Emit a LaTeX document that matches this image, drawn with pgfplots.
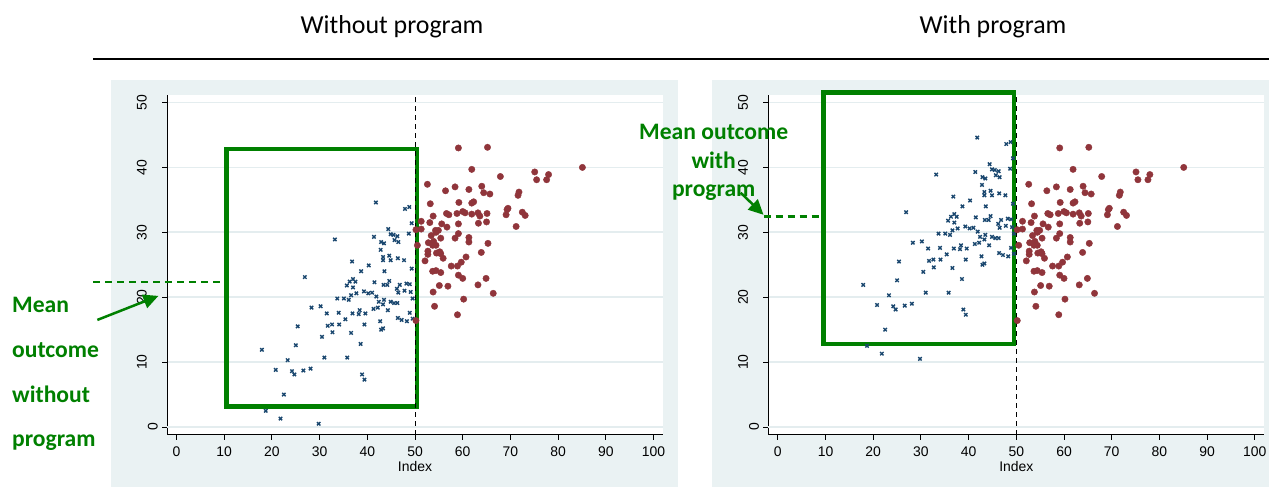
\documentclass[border=0pt]{standalone}
\usepackage{fontspec}
\usepackage{pgfplots}
\usepackage{pgfplotstable}
\pgfplotsset{compat=1.18}
\usetikzlibrary{arrows.meta}
\setmainfont{Carlito}
\newfontfamily\arialf{Liberation Sans}

\definecolor{navyc}{RGB}{26,71,111}
\definecolor{maroonc}{RGB}{144,53,59}
\definecolor{panelc}{RGB}{234,242,243}
\definecolor{gridc}{RGB}{228,237,239}
\definecolor{greenc}{RGB}{0,128,0}

\newcommand\titfont{\fontsize{26}{30}\selectfont}
\newcommand\annfont{\fontsize{23.7}{28}\selectfont\bfseries}
\newcommand\ticfont{\arialf\fontsize{14}{16}\selectfont}

% outcome without program, index below 50
\pgfplotstableread{
x y
41.8 34.6
47.9 33.6
48.8 33.9
49.3 31.4
48.7 29.8
44.4 30.5
44.9 29.7
45.5 29.6
46.3 29.4
45.7 28.8
46.5 28.5
41.4 29.3
42.9 28.5
43.5 28.3
33.2 28.9
42.8 27.3
43.3 26.2
44.6 26.4
43.3 25.7
44.9 25.7
46.4 26.0
47.7 25.7
36.8 25.5
40.3 24.9
38.7 24.0
43.6 24.0
49.3 24.4
26.9 23.1
37.0 22.8
36.3 22.4
37.5 22.4
35.7 21.8
37.0 21.5
41.5 22.3
43.4 21.9
44.2 21.9
44.6 22.5
46.8 21.9
48.2 22.1
48.9 22.0
46.2 21.3
47.8 21.0
46.5 20.7
49.1 20.8
37.7 20.6
39.3 20.9
40.2 20.6
41.0 20.7
36.6 20.3
33.7 19.8
35.1 19.8
36.1 19.6
41.9 20.1
42.4 19.3
43.5 19.6
44.9 19.3
45.6 19.1
46.3 19.1
49.5 19.8
28.3 18.4
30.2 18.6
31.5 17.5
34.0 17.6
36.9 17.5
38.2 17.4
38.4 18.0
39.6 17.5
41.3 18.2
42.2 18.4
43.3 18.9
44.3 18.0
48.9 17.6
35.4 16.6
46.4 16.8
47.2 16.5
48.3 16.3
49.5 16.7
42.7 16.3
25.4 15.5
31.7 15.6
32.6 15.8
34.1 15.8
39.4 15.8
42.9 15.0
43.3 15.2
30.5 13.9
32.7 14.6
36.6 14.5
25.0 12.6
17.9 11.9
38.6 12.8
31.0 10.7
35.8 10.7
23.3 10.3
20.8 8.8
24.2 8.6
24.7 8.1
26.6 8.7
28.1 9.0
38.9 8.1
39.4 7.3
22.5 5.0
18.7 2.5
21.8 1.3
29.8 0.5
}\bluedata

% index 50 and above
\pgfplotstableread{
x y
59.1 43.0
65.2 43.1
61.9 39.7
85.1 40.0
75.1 39.3
78.0 38.9
75.5 38.1
77.6 38.1
67.9 38.6
52.6 37.4
56.4 36.4
58.4 37.0
61.3 36.6
64.0 37.1
64.4 36.1
65.7 35.9
71.8 36.2
71.6 35.7
53.2 34.4
59.2 34.6
61.9 34.5
62.3 34.7
69.5 33.7
69.3 33.5
69.1 32.7
72.5 33.1
73.1 32.6
53.8 32.5
56.6 32.9
57.1 32.7
58.8 32.9
60.0 33.2
60.5 33.0
61.9 32.8
63.2 33.0
63.6 32.5
65.1 32.9
51.3 31.7
53.1 31.5
55.6 31.3
56.7 30.8
59.1 31.3
63.3 31.4
65.0 31.6
71.2 30.9
51.3 30.5
54.3 30.3
54.9 30.3
54.4 30.0
53.4 29.5
55.4 29.1
59.1 29.8
58.4 29.1
61.3 29.2
61.3 28.5
65.3 28.3
52.8 28.4
53.9 28.6
53.7 28.0
54.4 28.0
52.7 27.1
52.7 26.6
54.5 26.8
55.2 27.0
55.4 26.7
55.9 26.0
52.1 25.6
60.7 26.2
59.7 25.4
63.9 26.9
57.6 24.8
58.9 24.8
53.7 24.0
54.4 24.1
55.4 23.8
59.1 23.4
60.0 22.9
64.9 22.9
55.1 21.8
56.9 21.7
63.2 21.9
53.8 20.8
66.4 20.6
60.2 19.7
54.1 18.6
58.9 17.3
50.5 28.0
50.2 16.4
50.2 30.4
}\reddata

\pgfplotsset{
  panel/.style={
    scale only axis, width=496bp, height=340bp,
    xmin=-2, xmax=102, ymin=-1.23, ymax=51.16,
    clip=false,
    axis x line*=bottom, axis y line*=left,
    axis line style={black, line width=1bp, -},
    tick align=outside, major tick length=5bp,
    tick style={black, line width=1bp},
    xtick={0,10,...,100}, ytick={10,20,...,50},
    extra y ticks={0},
    extra y tick style={ymajorgrids=true, yticklabel style={yshift=-11bp}},
    ymajorgrids, grid style={gridc, line width=1.8bp},
    axis background/.style={fill=white},
    tick label style={font=\ticfont},
    /pgf/number format/assume math mode=true,
    xticklabel style={anchor=north, inner sep=0pt, yshift=-6.5bp},
    yticklabel style={rotate=90, anchor=south, inner sep=0pt, yshift=15bp},
    xlabel={Index},
    xlabel style={font=\ticfont, at={(axis description cs:0.5,0)}, anchor=north, inner sep=0pt, yshift=-26.7bp},
  },
  bluepts/.style={only marks, mark=x, color=navyc, mark size=2.4bp, mark options={line width=1.4bp}},
  redpts/.style={only marks, mark=*, color=maroonc, mark size=3.2bp, mark options={draw=maroonc, fill=maroonc}},
}

\begin{document}
\begin{tikzpicture}[x=1bp,y=1bp]
\useasboundingbox (0,0) rectangle (1269,487);
\fill[panelc] (111,0) rectangle (678,407);
\fill[panelc] (712,0) rectangle (1269,407);
\draw[line width=1.8bp] (93,428) -- (1269,428);
\node[font=\titfont] at (392,460) {Without program};
\node[font=\titfont] at (993,460) {With program};

\begin{axis}[panel, at={(167bp,52bp)}, anchor=south west]
\addplot[bluepts] table[x=x, y=y] {\bluedata};
\addplot[redpts] table[x=x, y=y] {\reddata};
\draw[greenc, line width=4.5bp, line join=miter] (axis cs:10.48,3.16) rectangle (axis cs:50.46,42.87);
\draw[black, line width=1bp, dash pattern=on 5bp off 4bp] (axis cs:50,-1.23) -- (axis cs:50,51.16);
\draw[greenc, line width=2.5bp, dash pattern=on 7bp off 5bp] (axis cs:-17.5,22.35) -- (axis cs:10.0,22.35);
\draw[greenc, line width=2.5bp, -{Triangle[length=15bp,width=14bp]}] (axis cs:-16.6,16.5) -- (axis cs:-3.8,20.2);
\end{axis}

\begin{axis}[panel, at={(768.3bp,52bp)}, anchor=south west]
\addplot[bluepts] table[x=x, y expr=\thisrow{y}+10] {\bluedata};
\addplot[redpts] table[x=x, y=y] {\reddata};
\draw[greenc, line width=4.5bp, line join=miter] (axis cs:9.52,12.82) rectangle (axis cs:49.56,51.54);
\draw[black, line width=1bp, dash pattern=on 5bp off 4bp] (axis cs:50,-1.23) -- (axis cs:50,51.16);
\draw[greenc, line width=2.5bp, dash pattern=on 7bp off 5bp] (axis cs:-3.0,32.4) -- (axis cs:9.0,32.4);
\draw[greenc, line width=2.5bp, -{Triangle[length=15bp,width=14bp]}] (axis cs:-7.8,36.1) -- (axis cs:-3.0,32.7);
\end{axis}

\node[font=\annfont, text=greenc, anchor=base west, inner sep=0pt] at (12,174.5) {Mean};
\node[font=\annfont, text=greenc, anchor=base west, inner sep=0pt] at (12,129.5) {outcome};
\node[font=\annfont, text=greenc, anchor=base west, inner sep=0pt] at (12,84.5) {without};
\node[font=\annfont, text=greenc, anchor=base west, inner sep=0pt] at (12,40) {program};
\node[font=\annfont, text=greenc, anchor=base, inner sep=0pt] at (713.7,347.7) {Mean outcome};
\node[font=\annfont, text=greenc, anchor=base, inner sep=0pt] at (713.7,318.7) {with};
\node[font=\annfont, text=greenc, anchor=base, inner sep=0pt] at (713.7,290) {program};
\end{tikzpicture}
\end{document}
